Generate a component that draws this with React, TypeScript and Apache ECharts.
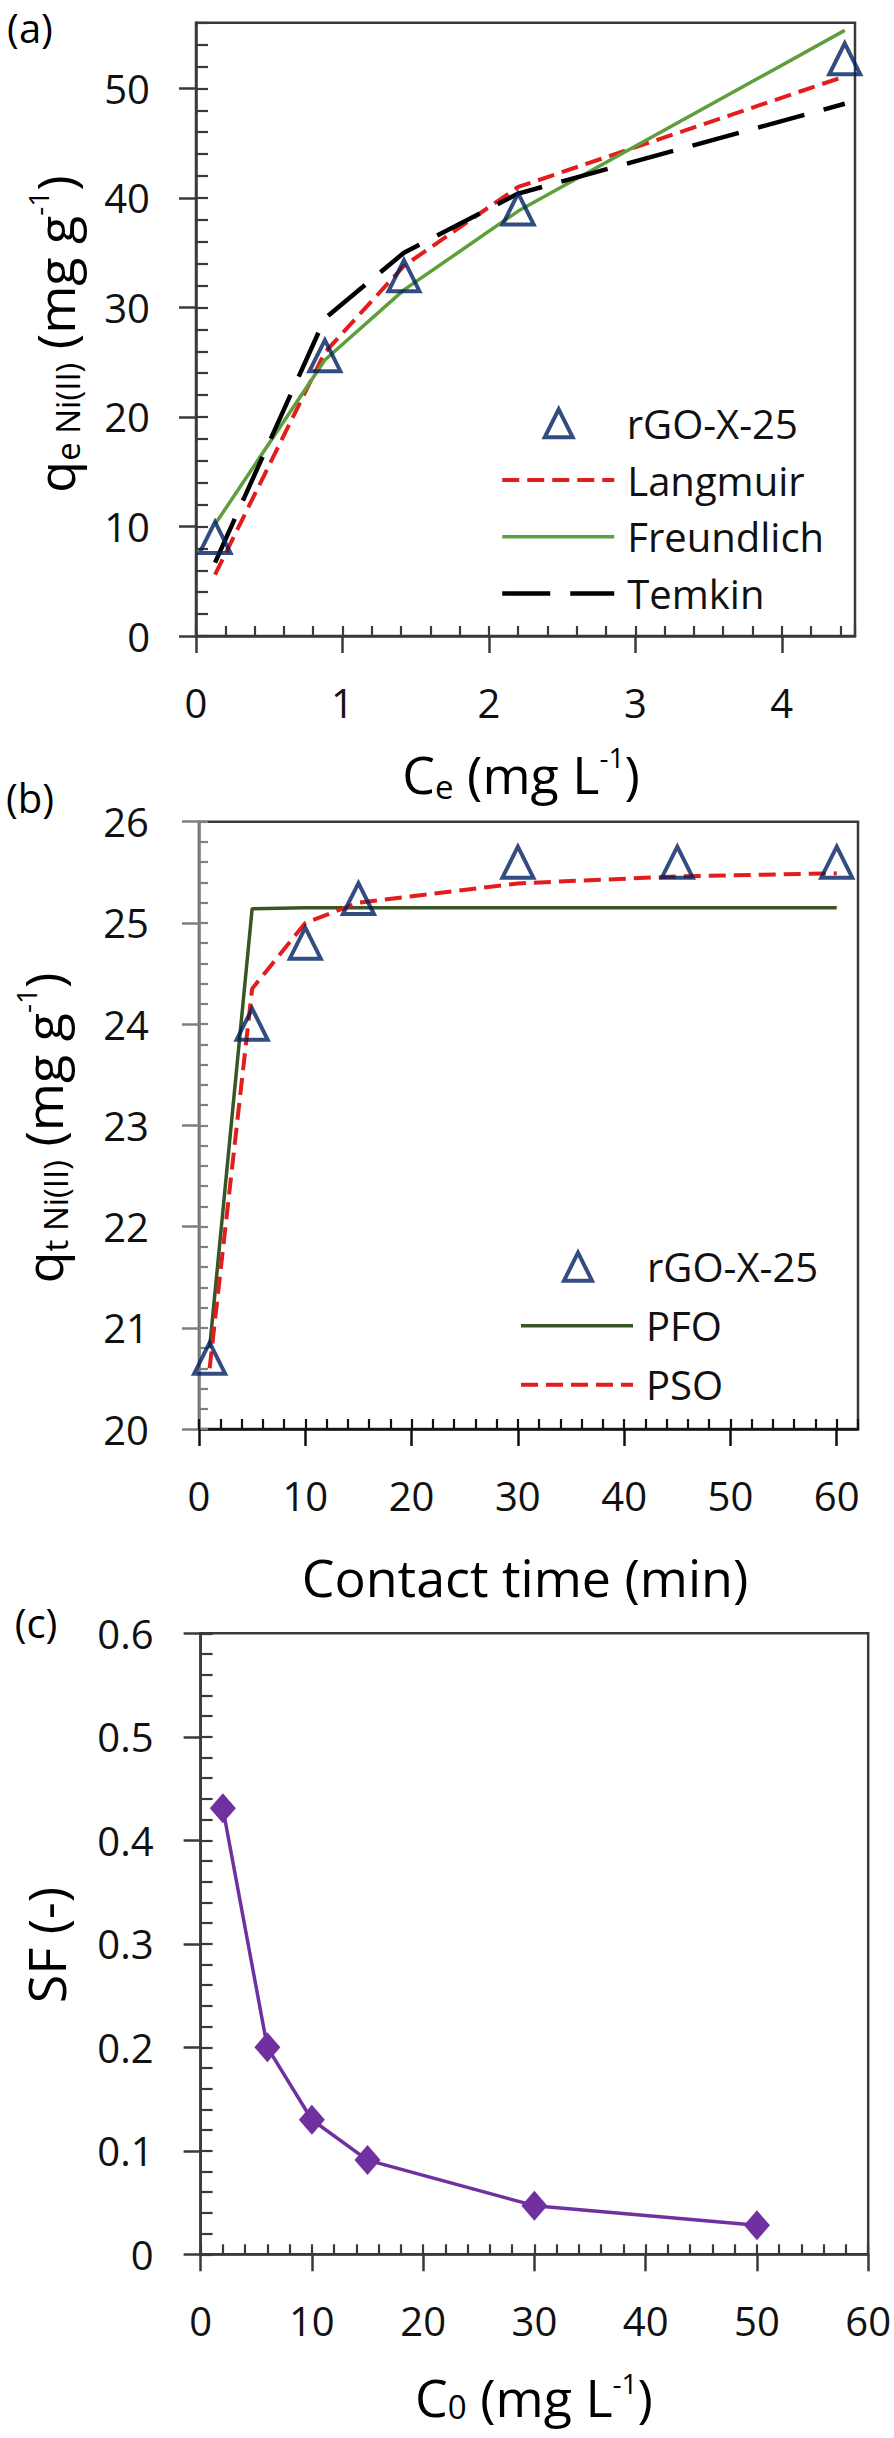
import React, { useEffect, useRef } from 'react';
import * as echarts from 'echarts';

const FONT = 'Open Sans';

// ---------- (a) isotherm ----------
const aCe = [0.13, 0.88, 1.42, 2.2, 4.43];
const aQe = [9.0, 25.6, 32.9, 39.0, 52.7];
const aLangmuir = [5.6, 25.9, 33.8, 41.0, 51.1];
const aFreundlich = [10.2, 25.2, 31.6, 38.8, 55.3];
const aTemkin = [6.7, 29.0, 35.0, 40.4, 48.6];
const aXTicks = [0, 1, 2, 3, 4];
const aYTicks = [0, 10, 20, 30, 40, 50];

// ---------- (b) kinetics ----------
const bTime = [1, 5, 10, 15, 30, 45, 60];
const bQt = [20.7, 24.0, 24.8, 25.24, 25.6, 25.6, 25.6];
const bPFO = [20.8, 25.14, 25.15, 25.15, 25.15, 25.15, 25.15];
const bPSO = [20.6, 24.35, 25.0, 25.2, 25.39, 25.46, 25.49];
const bXTicks = [0, 10, 20, 30, 40, 50, 60];
const bYTicks = [20, 21, 22, 23, 24, 25, 26];

// ---------- (c) separation factor ----------
const cC0 = [2, 6, 10, 15, 30, 50];
const cSF = [0.431, 0.2, 0.13, 0.091, 0.047, 0.028];
const cXTicks = [0, 10, 20, 30, 40, 50, 60];
const cYTicks = [0, 0.1, 0.2, 0.3, 0.4, 0.5, 0.6];

const NAVY = '#002060';
const RED = '#E21D1D';
const GREEN = '#5E9F3B';
const DKGREEN = '#375623';
const PURPLE = '#7030A0';
const AXIS = '#3a3a3a';
const AXIS_GREY = '#7f7f7f';
const TXT = '#111';

const zip = (xs: number[], ys: number[]) => xs.map((x, i) => [x, ys[i]]);

function mainAxis(gridIndex: number, min: number, max: number, ticks: number[], margin: number, color: string, isX: boolean) {
  return {
    type: 'value',
    gridIndex,
    min,
    max,
    position: isX ? 'bottom' : 'left',
    axisLine: { show: true, onZero: false, lineStyle: { color, width: 2.5 } },
    axisTick: { show: true, inside: false, length: 17, customValues: ticks, lineStyle: { color, width: 2.5 } },
    axisLabel: { show: true, customValues: ticks, margin, fontFamily: FONT, fontSize: 40, color: TXT },
    splitLine: { show: false },
    minorTick: { show: false },
    minorSplitLine: { show: false },
  };
}

function minorAxis(gridIndex: number, min: number, max: number, interval: number, length: number, color: string, isX: boolean) {
  return {
    type: 'value',
    gridIndex,
    min,
    max,
    interval,
    position: isX ? 'bottom' : 'left',
    axisLine: { show: false, onZero: false },
    axisTick: { show: true, inside: true, length, lineStyle: { color, width: 2.2 } },
    axisLabel: { show: false },
    splitLine: { show: false },
  };
}

function makeRich(lh: number) {
  return {
    m: { fontFamily: FONT, fontSize: 52, lineHeight: lh, verticalAlign: 'middle', fill: '#000', color: '#000' },
    s: { fontFamily: FONT, fontSize: 33, lineHeight: 33, verticalAlign: 'bottom', fill: '#000', color: '#000' },
    p: { fontFamily: FONT, fontSize: 28, lineHeight: 28, verticalAlign: 'top', fill: '#000', color: '#000' },
  };
}

function title(text: string, x: number, y: number, rotate: boolean, lh = 60) {
  return {
    type: 'text',
    x,
    y,
    rotation: rotate ? Math.PI / 2 : 0,
    style: {
      text,
      rich: makeRich(lh),
      fontFamily: FONT,
      fontSize: 52,
      fill: '#000',
      align: 'center',
      verticalAlign: 'middle',
      textAlign: 'center',
      textVerticalAlign: 'middle',
    },
  };
}

function panelLabel(text: string, x: number, y: number) {
  return {
    type: 'text',
    x,
    y,
    style: {
      text,
      fontFamily: FONT,
      fontSize: 40,
      fill: '#000',
      align: 'center',
      verticalAlign: 'middle',
      textAlign: 'center',
      textVerticalAlign: 'middle',
    },
  };
}

const hiddenSym = { color: 'rgba(0,0,0,0)', borderWidth: 0, opacity: 0 };
const triStyle = { color: 'rgba(0,0,0,0)', borderColor: NAVY, borderWidth: 4 };
const legendText = { fontFamily: FONT, fontSize: 40, color: TXT, lineHeight: 40 };

export default function App() {
  const ref = useRef<HTMLDivElement>(null);

  useEffect(() => {
    if (!ref.current) return;
    const chart = echarts.init(ref.current, undefined, { renderer: 'svg' });

    const gridBase = { show: true, borderColor: AXIS, borderWidth: 2.5, backgroundColor: 'transparent', outerBoundsMode: 'none', containLabel: false };

    const option: any = {
      animation: false,
      backgroundColor: '#ffffff',
      grid: [
        { ...gridBase, left: 196, top: 22.7, width: 659, height: 613.3 },
        { ...gridBase, left: 199, top: 821.7, width: 659, height: 607.3 },
        { ...gridBase, left: 200.6, top: 1633.3, width: 667.6, height: 621 },
      ],
      xAxis: [
        mainAxis(0, 0, 4.5, aXTicks, 46, AXIS, true),
        minorAxis(0, 0, 4.5, 0.2, 10, AXIS, true),
        mainAxis(1, 0, 62, bXTicks, 46, '#111', true),
        minorAxis(1, 0, 62, 2, 10, '#111', true),
        mainAxis(2, 0, 60, cXTicks, 46, AXIS, true),
        minorAxis(2, 0, 60, 2, 10, AXIS, true),
      ],
      yAxis: [
        mainAxis(0, 0, 56, aYTicks, 46, AXIS, false),
        minorAxis(0, 0, 56, 2, 12, AXIS, false),
        mainAxis(1, 20, 26, bYTicks, 50, AXIS_GREY, false),
        minorAxis(1, 20, 26, 0.2, 9, AXIS_GREY, false),
        mainAxis(2, 0, 0.6, cYTicks, 47, AXIS, false),
        minorAxis(2, 0, 0.6, 0.02, 12, AXIS, false),
      ],
      legend: [
        // (a) marker entry
        {
          orient: 'vertical', left: 542.7, top: 403.3, padding: 0,
          itemWidth: 28, itemHeight: 28, selectedMode: false, symbolKeepAspect: true,
          textStyle: { ...legendText, padding: [0, 0, 0, 49] },
          data: [{ name: 'rGO-X-25', icon: 'triangle', itemStyle: triStyle }],
        },
        // (a) model lines
        {
          orient: 'vertical', left: 500, top: 460, padding: 0,
          itemWidth: 112, itemHeight: 28, itemGap: 16.7, selectedMode: false,
          textStyle: { ...legendText, padding: [0, 0, 0, 8] },
          data: [
            { name: 'Langmuir', itemStyle: hiddenSym, lineStyle: { width: 4, color: RED, type: [17, 8] } },
            { name: 'Freundlich', itemStyle: hiddenSym, lineStyle: { width: 3.5, color: GREEN, type: 'solid' } },
            { name: 'Temkin', itemStyle: hiddenSym, lineStyle: { width: 4.5, color: '#000', type: [48, 20] } },
          ],
        },
        // (b) marker entry
        {
          orient: 'vertical', left: 562, top: 1246.7, padding: 0,
          itemWidth: 28, itemHeight: 28, selectedMode: false, symbolKeepAspect: true,
          textStyle: { ...legendText, padding: [0, 0, 0, 50] },
          data: [{ name: 'rGO-X-25', icon: 'triangle', itemStyle: triStyle }],
        },
        // (b) model lines
        {
          orient: 'vertical', left: 519, top: 1305.7, padding: 0,
          itemWidth: 112, itemHeight: 28, itemGap: 19, selectedMode: false,
          textStyle: { ...legendText, padding: [0, 0, 0, 8] },
          data: [
            { name: 'PFO', itemStyle: hiddenSym, lineStyle: { width: 3.5, color: DKGREEN, type: 'solid' } },
            { name: 'PSO', itemStyle: hiddenSym, lineStyle: { width: 4, color: RED, type: [17, 8] } },
          ],
        },
      ],
      series: [
        {
          name: 'Langmuir', type: 'line', xAxisIndex: 0, yAxisIndex: 0, data: zip(aCe, aLangmuir),
          symbol: 'none', z: 2, lineStyle: { color: RED, width: 4, type: [17, 8] }, itemStyle: { color: RED },
        },
        {
          name: 'Freundlich', type: 'line', xAxisIndex: 0, yAxisIndex: 0, data: zip(aCe, aFreundlich),
          symbol: 'none', z: 2, lineStyle: { color: GREEN, width: 3.5 }, itemStyle: { color: GREEN },
        },
        {
          name: 'Temkin', type: 'line', xAxisIndex: 0, yAxisIndex: 0, data: zip(aCe, aTemkin),
          symbol: 'none', z: 2, lineStyle: { color: '#000', width: 4.5, type: [48, 20] }, itemStyle: { color: '#000' },
        },
        {
          name: 'rGO-X-25', type: 'scatter', xAxisIndex: 0, yAxisIndex: 0, data: zip(aCe, aQe),
          symbol: 'triangle', symbolSize: [31, 31], z: 4, itemStyle: triStyle,
        },
        {
          name: 'PFO', type: 'line', xAxisIndex: 2, yAxisIndex: 2, data: zip(bTime, bPFO),
          symbol: 'none', z: 2, lineStyle: { color: DKGREEN, width: 3.5 }, itemStyle: { color: DKGREEN },
        },
        {
          name: 'PSO', type: 'line', xAxisIndex: 2, yAxisIndex: 2, data: zip(bTime, bPSO),
          symbol: 'none', z: 3, lineStyle: { color: RED, width: 4, type: [17, 8] }, itemStyle: { color: RED },
        },
        {
          name: 'rGO-X-25', type: 'scatter', xAxisIndex: 2, yAxisIndex: 2, data: zip(bTime, bQt),
          symbol: 'triangle', symbolSize: [31, 31], z: 4, itemStyle: triStyle,
        },
        {
          name: 'SF', type: 'line', xAxisIndex: 4, yAxisIndex: 4, data: zip(cC0, cSF),
          symbol: 'diamond', symbolSize: [26, 30], z: 3,
          lineStyle: { color: PURPLE, width: 3.5 }, itemStyle: { color: PURPLE },
        },
      ],
      graphic: [
        panelLabel('(a)', 30, 27),
        panelLabel('(b)', 30, 797),
        panelLabel('(c)', 36, 1622),
        title('{m|q}{s|e Ni(II)}{m| (mg g}{p|-1}{m|)}', 54, 334, true),
        title('{m|C}{s|e}{m| (mg L}{p|-1}{m|)}', 521, 773, false),
        title('{m|q}{s|t Ni(II)}{m| (mg g}{p|-1}{m|)}', 42, 1128, true),
        title('{m|Contact time (min)}', 525, 1576, false),
        title('{m|SF (-)}', 45, 1945, true),
        title('{m|C}{s|0}{m| (mg L}{p|-1}{m|)}', 534, 2396, false, 54),
      ],
    };

    chart.setOption(option);
    return () => {
      chart.dispose();
    };
  }, []);

  return (
    <div
      ref={ref}
      style={{ position: 'absolute', left: 0, top: 0, width: 894, height: 2438, background: '#fff' }}
    />
  );
}
